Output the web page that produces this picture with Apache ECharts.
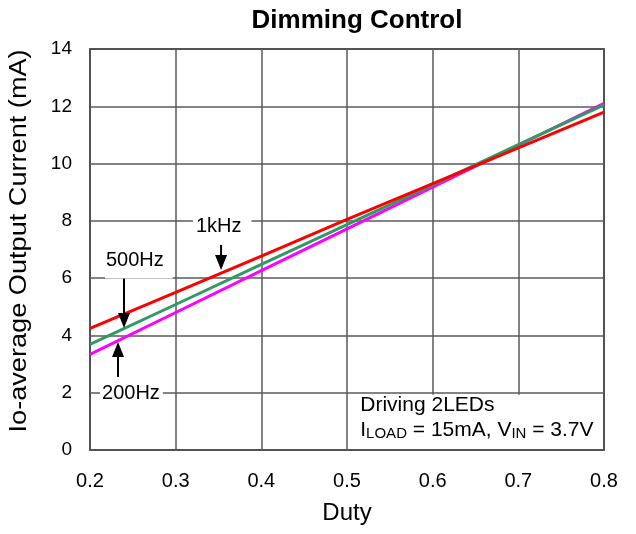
<!DOCTYPE html>
<html><head><meta charset="utf-8">
<script src="https://cdn.jsdelivr.net/npm/echarts@6/dist/echarts.min.js"></script>
<style>html,body{margin:0;padding:0;background:#fff}#c{width:636px;height:534px}</style>
</head><body><div id="c"></div>
<script>
var duty = [0.2, 0.3, 0.4, 0.5, 0.6, 0.7, 0.8];
var f1k   = [4.25, 5.50, 6.77, 8.05, 9.30, 10.55, 11.80];
var f500  = [3.69, 5.08, 6.48, 7.87, 9.26, 10.66, 12.05];
var f200  = [3.34, 4.80, 6.26, 7.72, 9.18, 10.64, 12.10];
var xTicks = [0.2, 0.3, 0.4, 0.5, 0.6, 0.7, 0.8];
var yTicks = [0, 2, 4, 6, 8, 10, 12, 14];

function pairs(ys){ return duty.map(function(x,i){return [x, ys[i]];}); }
var FONT = '"Liberation Sans", Arial, sans-serif';
var chart = echarts.init(document.getElementById('c'));
chart.setOption({
  animation: false,
  title: {text: 'Dimming Control', left: 352, top: 3, textAlign: 'center',
    textStyle: {fontFamily: FONT, fontSize: 26, fontWeight: 'bold', color: '#000'}},
  grid: {left: 90, right: 32, top: 49, bottom: 84, show: true, borderColor: '#000', borderWidth: 1.5, backgroundColor: '#fff'},
  xAxis: {type: 'value', min: 0.2, max: 0.8, interval: 0.1,
    name: 'Duty', nameLocation: 'middle', nameGap: 51,
    nameTextStyle: {fontFamily: FONT, fontSize: 24, color: '#000'},
    axisLine: {show: false}, axisTick: {show: false},
    axisLabel: {fontFamily: FONT, fontSize: 20, color: '#000', margin: 21,
      formatter: function(v){ return v.toFixed(1); }},
    splitLine: {lineStyle: {color: '#5a5a5a', width: 1.5}}},
  yAxis: {type: 'value', min: 0, max: 14, interval: 2,
    axisLine: {show: false}, axisTick: {show: false},
    axisLabel: {fontFamily: FONT, fontSize: 19, color: '#000', margin: 18},
    splitLine: {lineStyle: {color: '#5a5a5a', width: 1.5}}},
  series: [
    {name: '200Hz', type: 'line', data: pairs(f200), symbol: 'none', lineStyle: {color: '#ff00ff', width: 3}, z: 3},
    {name: '500Hz', type: 'line', data: pairs(f500), symbol: 'none', lineStyle: {color: '#2e9a66', width: 3}, z: 4},
    {name: '1kHz', type: 'line', data: pairs(f1k), symbol: 'none', lineStyle: {color: '#ff0000', width: 3}, z: 5}
  ]
});

function P(x, y){ return chart.convertToPixel({gridIndex: 0}, [x, y]); }
function arrow(x0, y0, x1, y1){
  var a = P(x0, y0), b = P(x1, y1);
  var dir = b[1] > a[1] ? 1 : -1;
  return [
    {type: 'line', shape: {x1: a[0], y1: a[1], x2: b[0], y2: b[1] - dir*10}, style: {stroke: '#000', lineWidth: 2}, z: 20},
    {type: 'polygon', shape: {points: [[b[0], b[1]], [b[0]-6, b[1]-dir*15], [b[0]+6, b[1]-dir*15]]}, style: {fill: '#000'}, z: 20}
  ];
}
function label(text, x, y, pad){
  var p = P(x, y);
  return {type: 'text', x: p[0], y: p[1], z: 21,
    style: {text: text, fontFamily: FONT, fontSize: 20, fill: '#000', align: 'left', verticalAlign: 'middle',
      backgroundColor: '#fff', padding: pad}};
}
var els = [];
// y axis title
var yc = P(0.2, 7.3);
els.push({type: 'text', x: 20, y: yc[1], rotation: Math.PI/2, scaleX: 1.18, z: 21,
  style: {text: 'Io-average Output Current (mA)', fontFamily: FONT, fontSize: 23, fill: '#000', align: 'center', verticalAlign: 'middle'}});
// white box for note
var b0 = P(0.5015, 1.93), b1 = P(0.8, 0);
els.push({type: 'rect', shape: {x: b0[0], y: b0[1], width: b1[0]-b0[0]-1, height: b1[1]-b0[1]-1}, style: {fill: '#fff'}, z: 19});
els.push({type: 'text', x: P(0.5155,0)[0], y: P(0, 1.55)[1], z: 21,
  style: {text: 'Driving 2LEDs', fontFamily: FONT, fontSize: 21, fill: '#000', verticalAlign: 'middle'}});
els.push({type: 'text', x: P(0.5155,0)[0], y: P(0, 0.68)[1], z: 21,
  style: {text: '{n|I}{s|LOAD}{n| = 15mA, V}{s|IN}{n| = 3.7V}', verticalAlign: 'middle',
    rich: {n: {fontFamily: FONT, fontSize: 21, fill: '#000'}, s: {fontFamily: FONT, fontSize: 15, fill: '#000', verticalAlign: 'bottom', padding:[4,0,0,0]}}}});
els.push(label('1kHz', 0.3202, 7.79, [8, 10, 2, 3]));
els = els.concat(arrow(0.353, 7.16, 0.353, 6.28));
els.push(label('500Hz', 0.2175, 6.6, [4, 9, 11, 1]));
els = els.concat(arrow(0.2397, 6.22, 0.2397, 4.26));
els.push(label('200Hz', 0.2117, 1.98, [3, 3, 3, 2]));
els = els.concat(arrow(0.2327, 2.55, 0.2327, 3.77));
chart.setOption({graphic: els});
</script></body></html>
